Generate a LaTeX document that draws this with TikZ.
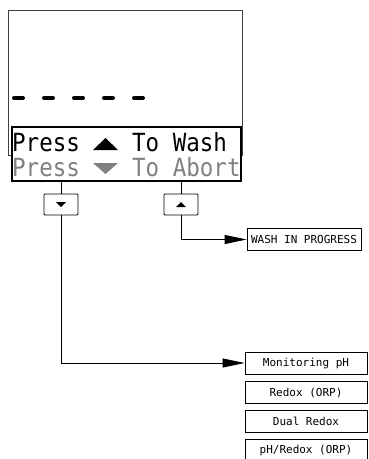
\documentclass[tikz,border=0pt]{standalone}
\usepackage{fontspec}
\setmonofont{DejaVu Sans Mono}
\newfontfamily\lcdfont[FakeStretch=0.9]{DejaVu Sans Mono}
\usetikzlibrary{positioning,arrows.meta}

\begin{document}
\begin{tikzpicture}[
  x=1pt, y=-1pt,
  >={Triangle[length=22pt,width=9pt]},
  lcdtext/.style={anchor=base west, inner sep=0pt, font=\lcdfont\fontsize{25}{28}\selectfont},
  lcddim/.style={lcdtext, text=black!50},
  lcddash/.style={line width=4pt, line cap=round},
  keybox/.style={draw=black, line width=0.8pt, rounded corners=1pt, minimum width=34pt, minimum height=21pt, inner sep=0pt},
  menubox/.style={draw=black, line width=0.8pt, minimum height=22pt, inner sep=0pt, font=\ttfamily\fontsize{11}{13}\selectfont},
  flowline/.style={draw=black, line width=0.8pt}
]
  \useasboundingbox (0,0) rectangle (369,459);
  % display
  \draw[black!75, line width=0.6pt] (8,10) rectangle (242,155);
  \foreach \i in {0,...,4}
    \draw[lcddash] ({14+30*\i},98) -- ++(9,0);
  \node[draw=black, line width=2.2pt, fill=white, minimum width=229pt, minimum height=54pt, inner sep=0pt] (msgbox) at (126.5,154) {};
  \node[lcdtext] (pressup) at (12,151) {Press};
  \node[lcdtext] (towash) at (132,151) {To Wash};
  \node[lcddim] (pressdown) at (12,176) {Press};
  \node[lcddim] (toabort) at (132,176) {To Abort};
  \fill (93,150) -- (118,150) -- (105.5,138) -- cycle;
  \fill[black!50] (93,163) -- (118,163) -- (105.5,174) -- cycle;
  % keys
  \node[keybox] (btndown) at (61,204.5) {};
  \node[keybox] (btnup) at (181,204.5) {};
  \fill (btndown.center) ++(-5,-2.5) -- ++(10,0) -- ++(-5,5) -- cycle;
  \fill (btnup.center) ++(-5,2.5) -- ++(10,0) -- ++(-5,-5) -- cycle;
  \draw[flowline] (msgbox.south -| btndown) -- (btndown.north);
  \draw[flowline] (msgbox.south -| btnup) -- (btnup.north);
  % results
  \node[menubox, minimum width=114pt] (washbox) at (304,239.5) {WASH IN PROGRESS};
  \node[menubox, minimum width=122pt] (monbox) at (306,363) {Monitoring pH};
  \node[menubox, minimum width=122pt, below=7pt of monbox] (redoxbox) {Redox (ORP)};
  \node[menubox, minimum width=122pt, below=6pt of redoxbox] (dualbox) {Dual Redox};
  \node[menubox, minimum width=122pt, below=6pt of dualbox] (phredoxbox) {pH/Redox (ORP)};
  \draw[flowline, ->] (btnup.south) |- (washbox.west);
  \draw[flowline, ->] (btndown.south) |- (monbox.west);
\end{tikzpicture}
\end{document}
